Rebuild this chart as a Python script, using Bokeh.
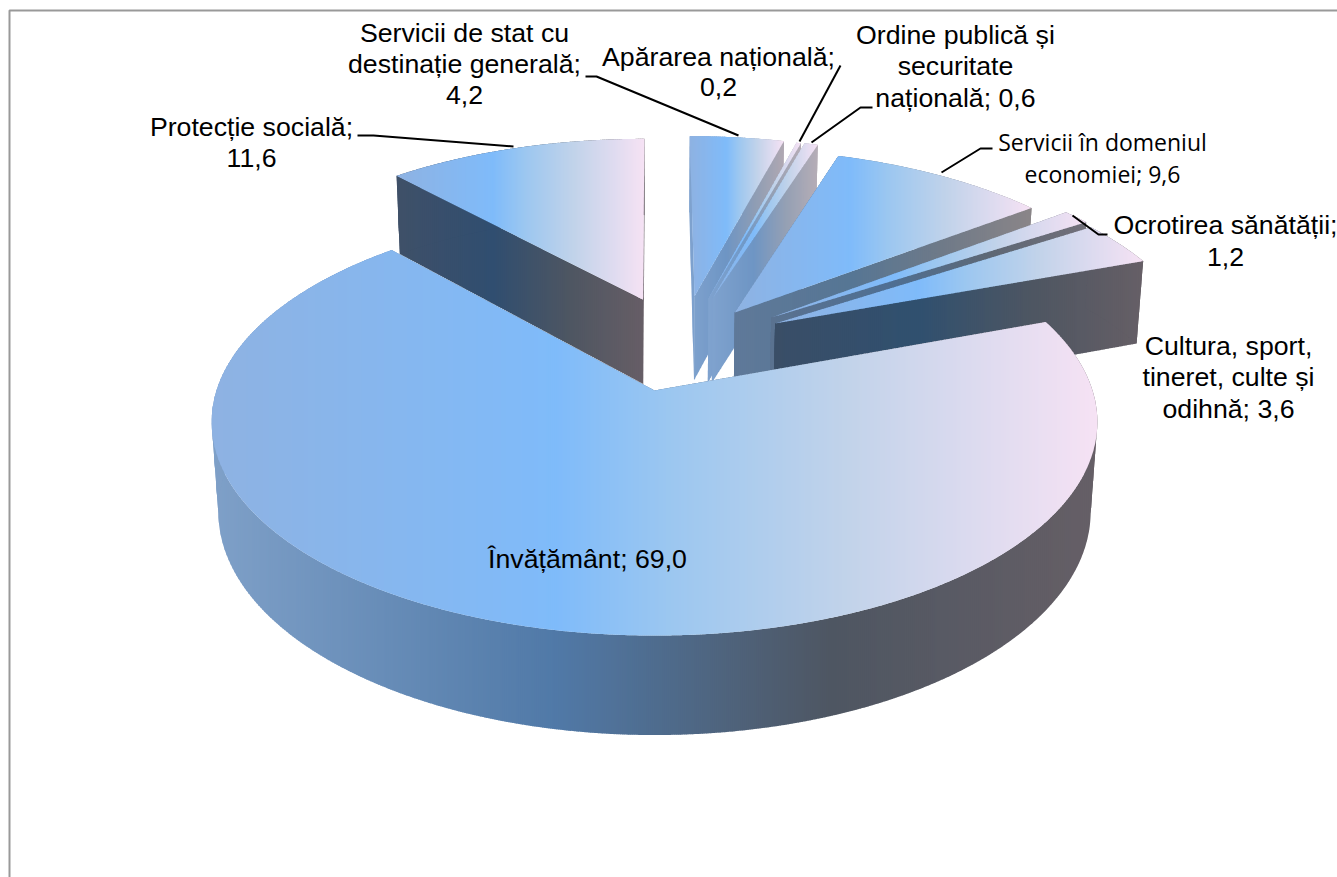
import math
from bokeh.plotting import figure
from bokeh.models import Range1d, ColumnDataSource
from bokeh.core.properties import value
from bokeh.embed import file_html
from bokeh.resources import INLINE

# ---------- data ----------
categories = ["Servicii de stat cu destinație generală", "Apărarea națională",
              "Ordine publică și securitate națională", "Servicii în domeniul economiei",
              "Ocrotirea sănătății", "Cultura, sport, tineret, culte și odihnă",
              "Învățământ", "Protecție socială"]
shares = [4.2, 0.2, 0.6, 9.6, 1.2, 3.6, 69.0, 11.6]

label_lines = [
    ["Servicii de stat cu", "destinație generală;", "4,2"],
    ["Apărarea națională;", "0,2"],
    ["Ordine publică și", "securitate", "națională; 0,6"],
    ["Servicii în domeniul", "economiei; 9,6"],
    ["Ocrotirea sănătății;", "1,2"],
    ["Cultura, sport,", "tineret, culte și", "odihnă; 3,6"],
    ["Învățământ; 69,0"],
    ["Protecție socială;", "11,6"],
]

# ---------- layout / style ----------
CX, CY, A, B, P, T, Q = 654.0, 390.0, 438.0, 208.9, 0.1475, 90.0, 0.015
offsets = [(0.098, 0.484), (0.132, 0.472), (0.142, 0.472), (0.194, 0.395),
           (0.281, 0.368), (0.289, 0.337), (0.0, 0.0), (-0.028, 0.465)]
paint_order = [7, 0, 1, 2, 3, 4, 5, 6]
label_pos = [(464, 32), (718, 56), (955, 34), (1102, 141), (1225, 224), (1228, 345), (587, 558), (251, 126)]
line_step = [31, 30, 31.5, 32, 32, 31.5, 0, 31]
label_font = ["Liberation Sans"] * 3 + ["Open Sans"] + ["Liberation Sans"] * 4
leaders = [
    [(585, 76), (596, 76), (738, 135)],
    [(840, 65), (799, 141)],
    [(872, 107), (860, 107), (811, 142)],
    [(992, 148), (980, 148), (941, 172)],
    [(1107, 234), (1098, 234), (1072, 215)],
    [(357, 135), (373, 135), (513, 146)],
]
top_stops = [(0, "#8EB2E2"), (0.39, "#7FBBFA"), (0.52, "#9CC7F0"), (0.72, "#C2D3EA"), (1, "#F6E2F4")]
side_stops = [
    [(0, "#7FA2CE"), (0.39, "#6E95C4"), (0.7, "#8F9DB4"), (1, "#B0A8B2")],
    [(0, "#7FA2CE"), (0.39, "#7099C8"), (0.7, "#95A0B4"), (1, "#B5ADB6")],
    [(0, "#7FA2CE"), (0.39, "#6E95C4"), (0.7, "#95A0B4"), (1, "#B5ADB6")],
    [(0, "#5F7999"), (0.39, "#567694"), (0.7, "#6F7A88"), (1, "#8A8588")],
    [(0, "#5A7290"), (0.39, "#4F6F92"), (0.7, "#5E6875"), (1, "#72707A")],
    [(0, "#3A4E67"), (0.39, "#30506F"), (0.7, "#4E5662"), (1, "#665F66")],
    [(0, "#7FA0C8"), (0.39, "#5079A7"), (0.7, "#4E5662"), (1, "#665F66")],
    [(0, "#3F5068"), (0.39, "#304E70"), (0.7, "#4E5662"), (1, "#675E66")],
]


def project(X, Y, bottom=False):
    w = 1 + P * Y + (Q if bottom else 0)
    return (CX + A * X / w, CY - (B * Y - (T if bottom else 0)) / w)


def hex2rgb(h):
    return tuple(int(h[i:i + 2], 16) for i in (1, 3, 5))


def grad(stops, t):
    t = max(0, min(1, t))
    for (t0, c0), (t1, c1) in zip(stops, stops[1:]):
        if t <= t1:
            f = (t - t0) / (t1 - t0)
            a, b = hex2rgb(c0), hex2rgb(c1)
            return "#%02X%02X%02X" % tuple(round(a[i] + (b[i] - a[i]) * f) for i in range(3))
    return stops[-1][1]


def clip_half(poly, x, keep_right):
    out = []
    n = len(poly)
    for i in range(n):
        p, q = poly[i], poly[(i + 1) % n]
        pin = p[0] >= x if keep_right else p[0] <= x
        qin = q[0] >= x if keep_right else q[0] <= x
        if pin:
            out.append(p)
        if pin != qin:
            f = (x - p[0]) / (q[0] - p[0])
            out.append((x, p[1] + (q[1] - p[1]) * f))
    return out


xs_all, ys_all, cols_all = [], [], []


def add_face(poly, x_lo, x_hi, stops, step=2.0):
    a = min(q[0] for q in poly)
    b = max(q[0] for q in poly)
    x = math.floor(a / step) * step
    while x < b:
        piece = clip_half(poly, x, True)
        if piece:
            piece = clip_half(piece, x + step + 0.6, False)
        if len(piece) >= 3:
            xs_all.append([q[0] for q in piece])
            ys_all.append([q[1] for q in piece])
            cols_all.append(grad(stops, (x + step / 2 - x_lo) / (x_hi - x_lo)))
        x += step


total = sum(shares)
starts, cum = [], 0.0
for v in shares:
    starts.append(cum / total * 2 * math.pi)
    cum += v
ends = starts[1:] + [2 * math.pi]

for i in paint_order:
    ox, oy = offsets[i]
    n = max(6, int((ends[i] - starts[i]) / math.radians(1)))
    ang = [starts[i] + (ends[i] - starts[i]) * k / n for k in range(n + 1)]
    rim = [(ox + math.sin(a), oy + math.cos(a)) for a in ang]
    top_rim = [project(*r) for r in rim]
    bot_rim = [project(*r, bottom=True) for r in rim]
    apex_t, apex_b = project(ox, oy), project(ox, oy, bottom=True)
    top_poly = [apex_t] + top_rim
    lo = min(q[0] for q in top_poly)
    hi = max(q[0] for q in top_poly)
    add_face([apex_t, top_rim[0], bot_rim[0], apex_b], lo, hi, side_stops[i])
    add_face([apex_t, top_rim[-1], bot_rim[-1], apex_b], lo, hi, side_stops[i])
    # the outer wall is cut where the rim turns back, so that it never folds over itself
    cuts = sorted({0, n, min(range(n + 1), key=lambda k: top_rim[k][0]),
                   max(range(n + 1), key=lambda k: top_rim[k][0])})
    for c0, c1 in zip(cuts, cuts[1:]):
        add_face(top_rim[c0:c1 + 1] + bot_rim[c0:c1 + 1][::-1], lo, hi, side_stops[i])
    add_face(top_poly, lo, hi, top_stops)

# ---------- figure ----------
p = figure(width=1337, height=877, output_backend="svg", toolbar_location=None,
           x_range=Range1d(0, 1337), y_range=Range1d(877, 0),
           x_axis_type=None, y_axis_type=None, min_border=0,
           outline_line_color=None, background_fill_color="white", border_fill_color="white")
p.grid.visible = False

p.line([9, 9, 1337], [877, 10, 10], line_color="#999999", line_width=2)
p.patches(xs="xs", ys="ys", fill_color="c", line_color=None,
          source=ColumnDataSource(dict(xs=xs_all, ys=ys_all, c=cols_all)))
for pts in leaders:
    p.line([q[0] for q in pts], [q[1] for q in pts], line_color="black", line_width=2)

for lines, (lx, ly), step, font in zip(label_lines, label_pos, line_step, label_font):
    size = "23px" if font == "Open Sans" else "26.7px"
    p.text([lx] * len(lines), [ly + k * step for k in range(len(lines))], text=lines,
           text_font=value(font), text_font_size=value(size), text_color="black",
           text_align="center", text_baseline="middle")

open("out.html", "w").write(file_html(p, INLINE))
